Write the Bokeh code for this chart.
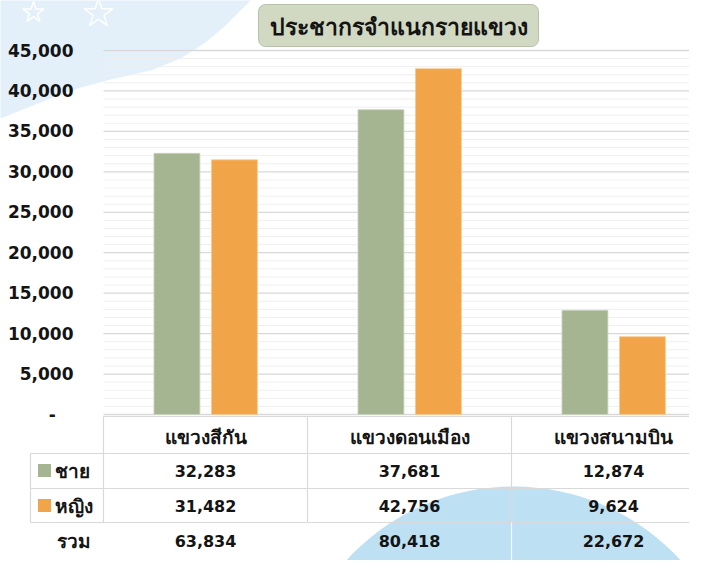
import numpy as np
from bokeh.plotting import figure
from bokeh.models import Range1d, LinearAxis, FixedTicker, NumeralTickFormatter, Label
from bokeh.core.properties import value
from bokeh.embed import file_html
from bokeh.resources import INLINE

# ---------------- data ----------------
chart_title = "ประชากรจำแนกรายแขวง"
districts = ["แขวงสีกัน", "แขวงดอนเมือง", "แขวงสนามบิน"]
series_names = ["ชาย", "หญิง"]
male = [32283, 37681, 12874]
female = [31482, 42756, 9624]
totals = [63834, 80418, 22672]
total_label = "รวม"
y_major = [0, 5000, 10000, 15000, 20000, 25000, 30000, 35000, 40000, 45000]
y_minor = [v for v in range(1000, 45000, 1000) if v % 5000 != 0]

# ---------------- styles ----------------
GREEN = "#a5b592"
ORANGE = "#f2a548"
TXT = "#141414"
NUM_FONT_NAME = "DejaVu Sans"
THAI_FONT_NAME = "Noto Sans"
NUM_FONT = value(NUM_FONT_NAME)
THAI_FONT = value(THAI_FONT_NAME)

W, H = 689, 560
# layout helpers: pixel position inside the figure -> data coordinate
CAT_LEFT, CAT_W = 103, 204         # left edge of first category, px per category
Y0_PX, Y45_PX = 414, 50            # pixel rows of 0 and 45,000
PX_PER_UNIT = (Y0_PX - Y45_PX) / 45000.0

def X(px):
    return (px - CAT_LEFT) / CAT_W

def Y(py):
    return (Y0_PX - py) / PX_PER_UNIT

p = figure(width=W, height=H, x_range=Range1d(X(0), X(W)), y_range=Range1d(Y(H), Y(0)),
           output_backend="svg", toolbar_location=None, min_border=0,
           x_axis_type=None, y_axis_type=None, outline_line_color=None,
           background_fill_color="white", border_fill_color="white")

# ---- decorative background shapes ----
bx = [250, 240, 225, 205, 180, 150, 110, 70, 35, 0, -20, -20, 260]
by = [0, 10, 25, 42, 58, 70, 79, 90, 104, 118, 125, -20, -20]
p.patch([X(v) for v in bx], [Y(v) for v in by], fill_color="#e3f0fa", line_color=None)
p.scatter([X(33), X(98)], [Y(12), Y(13)], marker="star", size=[22, 30],
          fill_color=None, line_color="white", line_width=1.5)

t = np.linspace(0, np.pi, 90)
dxp = 513 + 226 * np.cos(t)
dyp = 712 - 226 * np.sin(t)
p.patch([X(v) for v in dxp], [Y(v) for v in dyp], fill_color="#bee0f3", line_color=None)
p.quad(left=[X(330)], right=[X(W + 20)], top=[Y(563)], bottom=[Y(H + 20)],
       fill_color="white", fill_alpha=0.3, line_color=None)

# ---- gridlines ----
gx1 = X(W + 20)
p.segment(x0=[0] * len(y_minor), x1=[gx1] * len(y_minor), y0=y_minor, y1=y_minor,
          line_color="#efefef", line_width=1)
p.segment(x0=[0] * len(y_major), x1=[gx1] * len(y_major), y0=y_major, y1=y_major,
          line_color="#d9d9d9", line_width=1.3)

# ---- bars ----
n = len(districts)
xc = [i + 0.5 for i in range(n)]
p.vbar(x=[c - 0.14 for c in xc], top=male, bottom=0, width=0.225,
       fill_color=GREEN, line_color="#c9d3bd", line_width=0.8)
p.vbar(x=[c + 0.142 for c in xc], top=female, bottom=0, width=0.225,
       fill_color=ORANGE, line_color="#f6c990", line_width=0.8)

# ---- y axis ----
yaxis = LinearAxis(fixed_location=0, ticker=FixedTicker(ticks=y_major),
                   formatter=NumeralTickFormatter(format="0,0"),
                   major_label_overrides={0: "-\u00a0\u00a0\u00a0"},
                   axis_line_color=None, major_tick_line_color=None,
                   minor_tick_line_color=None, major_tick_out=0, major_tick_in=0,
                   major_label_standoff=30,
                   major_label_text_font=NUM_FONT_NAME, major_label_text_font_style="bold",
                   major_label_text_font_size="17px", major_label_text_color=TXT)
p.add_layout(yaxis, "left")

# ---- table lines ----
GRAY = "#d9d9d9"
p.segment(x0=[0], x1=[gx1], y0=[Y(416)], y1=[Y(416)], line_color=GRAY, line_width=1.2)
for yy in (453, 488, 522):
    p.segment(x0=[X(30)], x1=[gx1], y0=[Y(yy)], y1=[Y(yy)], line_color=GRAY, line_width=1.2)
for xx in range(n):
    p.segment(x0=[xx], x1=[xx], y0=[Y(416)], y1=[Y(522)], line_color=GRAY, line_width=1.2)
p.segment(x0=[X(30)], x1=[X(30)], y0=[Y(453)], y1=[Y(522)], line_color=GRAY, line_width=1.2)
for xx in range(1, n):
    p.segment(x0=[xx], x1=[xx], y0=[Y(522)], y1=[Y(563)], line_color="white", line_width=1.2, line_alpha=0.8)
p.segment(x0=[X(30)], x1=[gx1], y0=[Y(563)], y1=[Y(563)], line_color="white", line_width=1.2, line_alpha=0.8)

# ---- table texts ----
row_y = [Y(470), Y(505), Y(540)]
p.text(x=xc, y=[Y(436)] * n, text=districts, text_font=THAI_FONT, text_font_style="bold",
       text_font_size="19px", text_color=TXT, text_align="center", text_baseline="middle")
for vals, ry in zip((male, female, totals), row_y):
    p.text(x=xc, y=[ry] * n, text=[f"{v:,}" for v in vals], text_font=NUM_FONT,
           text_font_style="bold", text_font_size="16px", text_color=TXT,
           text_align="center", text_baseline="middle")
p.scatter([X(44), X(44)], row_y[:2], marker="square", size=13,
          fill_color=[GREEN, ORANGE], line_color=None)
p.text(x=[X(54), X(54), X(56)], y=row_y, text=series_names + [total_label],
       text_font=THAI_FONT, text_font_style="bold", text_font_size="19px",
       text_color=TXT, text_align="left", text_baseline="middle")

# ---- title box ----
shadow = Label(x=X(401), y=Y(28), text=chart_title, text_align="center", text_baseline="middle",
               text_font=THAI_FONT_NAME, text_font_size="23px", text_font_style="bold", text_alpha=0,
               background_fill_color="#bdbdbd", background_fill_alpha=0.6,
               border_radius=7, padding=(11, 5))
p.add_layout(shadow)
title_lbl = Label(x=X(398), y=Y(25), text=chart_title, text_align="center", text_baseline="middle",
                  text_font=THAI_FONT_NAME, text_font_size="23px", text_font_style="bold", text_color=TXT,
                  background_fill_color="#d2d9c3", border_line_color="#b7c0a8", border_line_width=1,
                  border_radius=7, padding=(11, 5))
p.add_layout(title_lbl)

open("out.html", "w").write(file_html(p, INLINE))
